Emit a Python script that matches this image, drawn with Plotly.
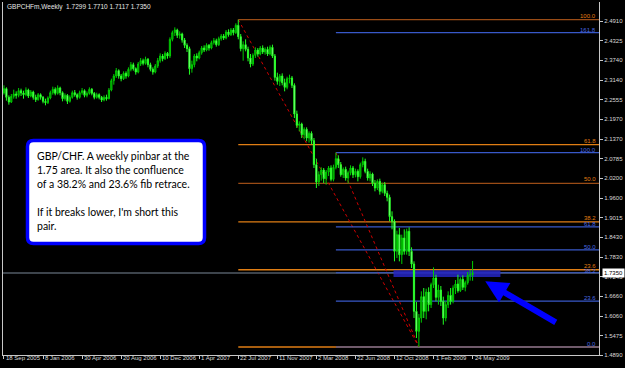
import plotly.graph_objects as go
import pandas as pd

# ---------------- data ----------------
symbol_title = "GBPCHFm,Weekly  1.7299 1.7710 1.7117 1.7350"
first_week = "2005-09-18"

opens = [2.275, 2.288, 2.262, 2.248, 2.265, 2.272, 2.268, 2.282, 2.275, 2.270,
         2.284, 2.266, 2.278, 2.262, 2.255, 2.270, 2.262, 2.250, 2.246, 2.260,
         2.276, 2.286, 2.274, 2.290, 2.276, 2.258, 2.268, 2.250, 2.262, 2.276,
         2.270, 2.262, 2.276, 2.282, 2.268, 2.274, 2.286, 2.274, 2.262, 2.270,
         2.262, 2.254, 2.262, 2.258, 2.284, 2.312, 2.326, 2.342, 2.326, 2.318,
         2.334, 2.326, 2.346, 2.360, 2.348, 2.338, 2.362, 2.372, 2.364, 2.376,
         2.360, 2.346, 2.338, 2.356, 2.372, 2.386, 2.378, 2.394, 2.386, 2.436,
         2.456, 2.464, 2.448, 2.452, 2.434, 2.418, 2.408, 2.348, 2.360, 2.386,
         2.380, 2.396, 2.410, 2.404, 2.418, 2.410, 2.426, 2.432, 2.420, 2.438,
         2.446, 2.440, 2.458, 2.450, 2.464, 2.456, 2.478, 2.444, 2.408, 2.420,
         2.406, 2.380, 2.362, 2.388, 2.404, 2.392, 2.410, 2.398, 2.406, 2.392,
         2.412, 2.386, 2.322, 2.310, 2.326, 2.306, 2.292, 2.318, 2.320, 2.298,
         2.212, 2.178, 2.182, 2.150, 2.166, 2.140, 2.154, 2.132, 2.060, 2.008,
         2.030, 2.044, 2.018, 2.038, 2.050, 2.016, 2.052, 2.078, 2.060, 2.030,
         2.046, 2.020, 2.036, 2.050, 2.030, 2.040, 2.024, 2.060, 2.070, 2.040,
         2.020, 2.032, 2.004, 1.990, 2.010, 1.980, 2.000, 1.974, 1.962, 1.904,
         1.890, 1.800, 1.850, 1.790, 1.840, 1.800, 1.860, 1.800, 1.762, 1.620,
         1.560, 1.600, 1.664, 1.620, 1.678, 1.640, 1.700, 1.720, 1.662, 1.684,
         1.650, 1.600, 1.640, 1.668, 1.650, 1.690, 1.702, 1.682, 1.716, 1.692,
         1.706, 1.728, 1.7299]

highs = [2.298, 2.292, 2.268, 2.272, 2.285, 2.280, 2.290, 2.288, 2.282, 2.292,
         2.288, 2.284, 2.282, 2.270, 2.275, 2.274, 2.266, 2.258, 2.265, 2.282,
         2.294, 2.292, 2.298, 2.294, 2.280, 2.274, 2.272, 2.268, 2.282, 2.284,
         2.274, 2.282, 2.290, 2.286, 2.280, 2.292, 2.290, 2.278, 2.276, 2.274,
         2.266, 2.268, 2.270, 2.290, 2.318, 2.332, 2.350, 2.346, 2.332, 2.340,
         2.340, 2.352, 2.368, 2.366, 2.352, 2.368, 2.380, 2.378, 2.384, 2.380,
         2.366, 2.352, 2.362, 2.380, 2.394, 2.392, 2.400, 2.398, 2.442, 2.462,
         2.472, 2.468, 2.460, 2.456, 2.440, 2.424, 2.414, 2.372, 2.392, 2.394,
         2.402, 2.416, 2.418, 2.424, 2.422, 2.432, 2.440, 2.438, 2.444, 2.452,
         2.452, 2.464, 2.466, 2.470, 2.470, 2.484, 2.495, 2.452, 2.430, 2.436,
         2.414, 2.392, 2.394, 2.412, 2.410, 2.416, 2.418, 2.412, 2.414, 2.418,
         2.420, 2.392, 2.336, 2.332, 2.334, 2.318, 2.324, 2.330, 2.326, 2.304,
         2.222, 2.190, 2.186, 2.172, 2.172, 2.160, 2.160, 2.140, 2.078, 2.040,
         2.052, 2.050, 2.044, 2.056, 2.058, 2.060, 2.096, 2.088, 2.068, 2.052,
         2.054, 2.042, 2.058, 2.056, 2.048, 2.046, 2.066, 2.082, 2.078, 2.048,
         2.040, 2.036, 2.014, 2.016, 2.018, 2.006, 2.008, 1.982, 1.970, 1.920,
         1.896, 1.862, 1.870, 1.850, 1.866, 1.868, 1.872, 1.812, 1.770, 1.648,
         1.612, 1.680, 1.690, 1.688, 1.692, 1.706, 1.752, 1.730, 1.700, 1.696,
         1.664, 1.650, 1.680, 1.690, 1.698, 1.714, 1.730, 1.722, 1.728, 1.712,
         1.738, 1.744, 1.7710]

lows = [2.270, 2.252, 2.240, 2.245, 2.258, 2.258, 2.262, 2.266, 2.258, 2.265,
        2.260, 2.262, 2.255, 2.248, 2.252, 2.255, 2.244, 2.238, 2.242, 2.256,
        2.270, 2.268, 2.270, 2.268, 2.250, 2.252, 2.242, 2.246, 2.258, 2.264,
        2.255, 2.258, 2.270, 2.262, 2.262, 2.270, 2.268, 2.256, 2.258, 2.256,
        2.248, 2.250, 2.252, 2.256, 2.280, 2.300, 2.320, 2.318, 2.310, 2.314,
        2.318, 2.322, 2.340, 2.342, 2.330, 2.334, 2.356, 2.358, 2.360, 2.352,
        2.340, 2.330, 2.334, 2.350, 2.366, 2.370, 2.374, 2.378, 2.380, 2.430,
        2.446, 2.440, 2.438, 2.426, 2.410, 2.398, 2.330, 2.336, 2.352, 2.370,
        2.376, 2.390, 2.398, 2.400, 2.402, 2.406, 2.420, 2.414, 2.416, 2.432,
        2.434, 2.436, 2.444, 2.446, 2.448, 2.452, 2.436, 2.400, 2.372, 2.400,
        2.370, 2.352, 2.356, 2.380, 2.384, 2.388, 2.392, 2.390, 2.386, 2.388,
        2.380, 2.312, 2.300, 2.296, 2.298, 2.280, 2.286, 2.304, 2.290, 2.200,
        2.170, 2.160, 2.140, 2.136, 2.130, 2.126, 2.122, 2.050, 1.990, 1.996,
        2.012, 2.005, 2.000, 2.026, 2.010, 2.010, 2.046, 2.050, 2.024, 2.020,
        2.012, 2.004, 2.028, 2.020, 2.022, 2.010, 2.018, 2.052, 2.034, 2.012,
        2.010, 1.996, 1.980, 1.984, 1.970, 1.974, 1.966, 1.950, 1.890, 1.866,
        1.770, 1.780, 1.770, 1.762, 1.790, 1.790, 1.786, 1.750, 1.600, 1.540,
        1.513, 1.586, 1.600, 1.596, 1.620, 1.630, 1.690, 1.650, 1.640, 1.636,
        1.580, 1.590, 1.630, 1.640, 1.644, 1.672, 1.676, 1.678, 1.684, 1.680,
        1.700, 1.712, 1.7117]

closes = [2.288, 2.262, 2.248, 2.265, 2.272, 2.268, 2.282, 2.275, 2.270, 2.284,
          2.266, 2.278, 2.262, 2.255, 2.270, 2.262, 2.250, 2.246, 2.260, 2.276,
          2.286, 2.274, 2.290, 2.276, 2.258, 2.268, 2.250, 2.262, 2.276, 2.270,
          2.262, 2.276, 2.282, 2.268, 2.274, 2.286, 2.274, 2.262, 2.270, 2.262,
          2.254, 2.262, 2.258, 2.284, 2.312, 2.326, 2.342, 2.326, 2.318, 2.334,
          2.326, 2.346, 2.360, 2.348, 2.338, 2.362, 2.372, 2.364, 2.376, 2.360,
          2.346, 2.338, 2.356, 2.372, 2.386, 2.378, 2.394, 2.386, 2.436, 2.456,
          2.464, 2.448, 2.452, 2.434, 2.418, 2.408, 2.348, 2.360, 2.386, 2.380,
          2.396, 2.410, 2.404, 2.418, 2.410, 2.426, 2.432, 2.420, 2.438, 2.446,
          2.440, 2.458, 2.450, 2.464, 2.456, 2.478, 2.444, 2.408, 2.420, 2.406,
          2.380, 2.362, 2.388, 2.404, 2.392, 2.410, 2.398, 2.406, 2.392, 2.412,
          2.386, 2.322, 2.310, 2.326, 2.306, 2.292, 2.318, 2.320, 2.298, 2.212,
          2.178, 2.182, 2.150, 2.166, 2.140, 2.154, 2.132, 2.060, 2.008, 2.030,
          2.044, 2.018, 2.038, 2.050, 2.016, 2.052, 2.078, 2.060, 2.030, 2.046,
          2.020, 2.036, 2.050, 2.030, 2.040, 2.024, 2.060, 2.070, 2.040, 2.020,
          2.032, 2.004, 1.990, 2.010, 1.980, 2.000, 1.974, 1.962, 1.904, 1.890,
          1.800, 1.850, 1.790, 1.840, 1.800, 1.860, 1.800, 1.762, 1.620, 1.560,
          1.600, 1.664, 1.620, 1.678, 1.640, 1.700, 1.720, 1.662, 1.684, 1.650,
          1.600, 1.640, 1.668, 1.650, 1.690, 1.702, 1.682, 1.716, 1.692, 1.706,
          1.728, 1.7299, 1.7350]

x_tick_labels = ["18 Sep 2005", "8 Jan 2006", "30 Apr 2006", "20 Aug 2006", "10 Dec 2006",
                 "1 Apr 2007", "22 Jul 2007", "11 Nov 2007", "2 Mar 2008", "22 Jun 2008",
                 "12 Oct 2008", "1 Feb 2009", "24 May 2009"]
y_tick_values = [2.4910, 2.4325, 2.3740, 2.3140, 2.2555, 2.1970, 2.1370, 2.0785, 2.0200,
                 1.9600, 1.9015, 1.8430, 1.7830, 1.7245, 1.6660, 1.6060, 1.5475, 1.4890]
last_price = 1.7350

# Fibonacci retracements (anchor week index, high, low)
fib_levels = [0.0, 23.6, 38.2, 50.0, 61.8, 100.0]
fib_orange_anchor = (96, 2.4950, 1.5130)
fib_blue_levels = [0.0, 23.6, 38.2, 50.0, 61.8, 100.0, 161.8]
fib_blue_anchor = (136, 2.0960, 1.5130)
low_week = 170

zone_weeks = (159.6, 203.4)
zone_prices = (1.7229, 1.7430)

note_lines = ["GBP/CHF. A weekly pinbar at the",
              "1.75 area. It also the confluence",
              "of a 38.2% and 23.6% fib retrace.",
              "",
              "If it breaks lower, I'm short this",
              "pair."]

# ---------------- helpers ----------------
W, H = 625, 368
ML, MR, MT, MB = 3, 26, 2, 13
PW, PH = W - ML - MR, H - MT - MB

week0 = pd.Timestamp(first_week)
dates = pd.date_range(week0, periods=len(closes), freq="7D")


def wk(n):
    return week0 + pd.Timedelta(days=7 * n)


def PX(px):
    return (px - ML) / PW


def PY(py):
    return (H - MB - py) / PH


x_left, x_right = wk(-0.4), wk(243.8)

ORANGE = "#e07e14"
BROWN = "#9a4c16"
BLUE = "#3858c8"
TXT = "#d8d8d8"
TICKFONT = dict(family="Liberation Sans", size=6, color=TXT)

fig = go.Figure()
fig.add_trace(go.Candlestick(
    x=dates, open=opens, high=highs, low=lows, close=closes,
    increasing=dict(line=dict(color="#00cc00", width=1), fillcolor="#007a00"),
    decreasing=dict(line=dict(color="#22ff22", width=1), fillcolor="#d0ffd0"),
    whiskerwidth=0, showlegend=False, hoverinfo="skip"))

shapes = []
annotations = []

# current price line
shapes.append(dict(type="line", xref="x", yref="y", x0=x_left, x1=x_right,
                   y0=last_price, y1=last_price, line=dict(color="#7a8898", width=1),
                   layer="below"))

# orange fib
a_w, a_hi, a_lo = fib_orange_anchor
for lv in fib_levels:
    p = a_lo + (a_hi - a_lo) * lv / 100.0
    col = BROWN if lv in (100.0, 50.0) else ORANGE
    shapes.append(dict(type="line", xref="x", yref="y", x0=wk(a_w), x1=x_right,
                       y0=p, y1=p, line=dict(color=col, width=1.3), layer="below"))
    if lv != 0.0:
        annotations.append(dict(xref="paper", yref="y", x=PX(597), y=p, text=f"{lv:.1f}",
                                showarrow=False, xanchor="right", yanchor="bottom",
                                font=dict(family="Liberation Sans", size=6, color=ORANGE),
                                borderpad=0, yshift=0))
shapes.append(dict(type="line", xref="x", yref="y", x0=wk(a_w), y0=a_hi, x1=wk(low_week), y1=a_lo,
                   line=dict(color="#d00000", width=1, dash="dot"), layer="below"))

# blue fib
b_w, b_hi, b_lo = fib_blue_anchor
for lv in fib_blue_levels:
    p = b_lo + (b_hi - b_lo) * lv / 100.0
    shapes.append(dict(type="line", xref="x", yref="y", x0=wk(b_w), x1=x_right,
                       y0=p, y1=p, line=dict(color=BLUE, width=1.2), layer="below"))
    annotations.append(dict(xref="paper", yref="y", x=PX(597), y=p, text=f"{lv:.1f}",
                            showarrow=False, xanchor="right", yanchor="bottom",
                            font=dict(family="Liberation Sans", size=6, color="#4a6ae0"),
                            borderpad=0, yshift=-2 if lv == 38.2 else -1))
shapes.append(dict(type="line", xref="x", yref="y", x0=wk(b_w), y0=b_hi, x1=wk(low_week), y1=b_lo,
                   line=dict(color="#d00000", width=1, dash="dot"), layer="below"))

# blue zone rectangle
shapes.append(dict(type="rect", xref="x", yref="y", x0=wk(zone_weeks[0]), x1=wk(zone_weeks[1]),
                   y0=zone_prices[0], y1=zone_prices[1], line=dict(width=0),
                   fillcolor="rgba(36,36,190,0.88)", layer="below"))

# note box (rounded rect)
bx0, bx1, by0, by1, r = 27.5, 204.5, 140.5, 243.5, 6
path = (f"M {PX(bx0 + r)},{PY(by0)} L {PX(bx1 - r)},{PY(by0)} "
        f"Q {PX(bx1)},{PY(by0)} {PX(bx1)},{PY(by0 + r)} "
        f"L {PX(bx1)},{PY(by1 - r)} Q {PX(bx1)},{PY(by1)} {PX(bx1 - r)},{PY(by1)} "
        f"L {PX(bx0 + r)},{PY(by1)} Q {PX(bx0)},{PY(by1)} {PX(bx0)},{PY(by1 - r)} "
        f"L {PX(bx0)},{PY(by0 + r)} Q {PX(bx0)},{PY(by0)} {PX(bx0 + r)},{PY(by0)} Z")
shapes.append(dict(type="path", xref="paper", yref="paper", path=path,
                   fillcolor="white", line=dict(color="#0000ff", width=3.5), layer="above"))

for k, line in enumerate(note_lines):
    if not line:
        continue
    annotations.append(dict(xref="paper", yref="paper", x=PX(35), y=PY(155.5 + 14.2 * k), text=line,
                            showarrow=False, xanchor="left", yanchor="middle", align="left",
                            font=dict(family="Lato", size=10.5, color="black")))

# title
annotations.append(dict(xref="paper", yref="paper", x=PX(5), y=PY(7), text=symbol_title,
                        showarrow=False, xanchor="left", yanchor="middle",
                        font=dict(family="Liberation Sans", size=6.5, color="#e8e8e8")))

# last price box
annotations.append(dict(xref="paper", yref="y", x=1, y=last_price, text=f"{last_price:.4f}",
                        showarrow=False, xanchor="left", yanchor="middle", xshift=3,
                        bgcolor="white", borderpad=1,
                        font=dict(family="Liberation Sans", size=6, color="black")))

# date labels (MT4 style, left-aligned at tick)
for lab in x_tick_labels:
    annotations.append(dict(xref="x", yref="paper", x=pd.Timestamp(lab), y=PY(358.5), text=lab,
                            showarrow=False, xanchor="left", yanchor="middle", xshift=0,
                            font=TICKFONT))

# arrow
annotations.append(dict(xref="x", yref="y", x=wk(197.2), y=1.710, text="", showarrow=True,
                        ax=72, ay=42, arrowcolor="#0000ff", arrowwidth=6, arrowhead=2,
                        arrowsize=0.75, standoff=0))

fig.update_layout(
    width=W, height=H, margin=dict(l=ML, r=MR, t=MT, b=MB),
    paper_bgcolor="black", plot_bgcolor="black",
    shapes=shapes, annotations=annotations, showlegend=False,
    xaxis=dict(type="date", range=[x_left, x_right], rangeslider=dict(visible=False),
               showgrid=False, zeroline=False, showline=True, linecolor="#c8c8c8", linewidth=1,
               tickvals=[pd.Timestamp(l) for l in x_tick_labels], showticklabels=False,
               ticks="outside", ticklen=3, tickcolor="#c8c8c8"),
    yaxis=dict(side="right", range=[1.4890, 2.548], showgrid=False, zeroline=False,
               showline=True, linecolor="#c8c8c8", linewidth=1, mirror=True,
               tickvals=y_tick_values, ticktext=[f"{v:.4f}" for v in y_tick_values],
               ticks="outside", ticklen=3, tickcolor="#c8c8c8", tickfont=TICKFONT),
)

fig.write_html("out.html")
